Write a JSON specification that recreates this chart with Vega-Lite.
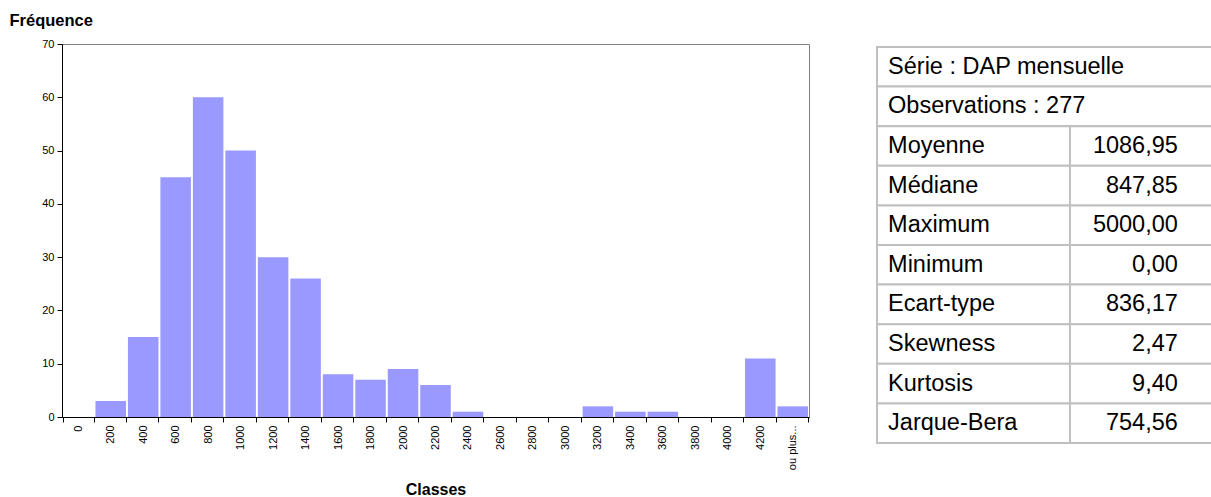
{
  "$schema": "https://vega.github.io/schema/vega-lite/v6.json",
  "padding": {"left": 8, "top": 11, "right": 0, "bottom": 0},
  "background": "white",
  "spacing": 66,
  "config": {"font": "Liberation Sans", "view": {"stroke": null}},
  "hconcat": [
    {
      "width": 747,
      "height": 373,
      "view": {"stroke": "#808080", "strokeWidth": 1},
      "data": {"values": [
        {"classe": "0", "freq": 0},
        {"classe": "200", "freq": 3},
        {"classe": "400", "freq": 15},
        {"classe": "600", "freq": 45},
        {"classe": "800", "freq": 60},
        {"classe": "1000", "freq": 50},
        {"classe": "1200", "freq": 30},
        {"classe": "1400", "freq": 26},
        {"classe": "1600", "freq": 8},
        {"classe": "1800", "freq": 7},
        {"classe": "2000", "freq": 9},
        {"classe": "2200", "freq": 6},
        {"classe": "2400", "freq": 1},
        {"classe": "2600", "freq": 0},
        {"classe": "2800", "freq": 0},
        {"classe": "3000", "freq": 0},
        {"classe": "3200", "freq": 2},
        {"classe": "3400", "freq": 1},
        {"classe": "3600", "freq": 1},
        {"classe": "3800", "freq": 0},
        {"classe": "4000", "freq": 0},
        {"classe": "4200", "freq": 11},
        {"classe": "ou plus...", "freq": 2}
      ]},
      "mark": {"type": "bar", "color": "#9999FF"},
      "encoding": {
        "x": {
          "field": "classe", "type": "ordinal", "sort": null,
          "scale": {"paddingInner": 0.06, "paddingOuter": 0.03},
          "axis": {
            "title": "Classes", "titleFontSize": 16, "titleFontWeight": "bold", "titleColor": "black", "titlePadding": 12,
            "labelAngle": 270, "labelFontSize": 11, "labelColor": "black", "labelPadding": 3,
            "domainColor": "black", "tickColor": "black", "tickSize": 5, "tickBand": "extent", "grid": false
          }
        },
        "y": {
          "field": "freq", "type": "quantitative",
          "scale": {"domain": [0, 70], "nice": false},
          "axis": {
            "title": "Fréquence", "titleAngle": 0, "titleAlign": "left", "titleBaseline": "alphabetic",
            "titleX": -53, "titleY": -19, "titleFontSize": 16.5, "titleFontWeight": "bold", "titleColor": "black",
            "values": [0, 10, 20, 30, 40, 50, 60, 70],
            "labelFontSize": 11, "labelColor": "black", "labelPadding": 3,
            "domainColor": "black", "tickColor": "black", "tickSize": 5, "grid": false
          }
        }
      }
    },
    {
      "width": 335,
      "height": 402,
      "view": {"stroke": null},
      "data": {"values": [
        {"row": 0, "label": "Série : DAP mensuelle", "value": null},
        {"row": 1, "label": "Observations : 277", "value": null},
        {"row": 2, "label": "Moyenne", "value": "1086,95"},
        {"row": 3, "label": "Médiane", "value": "847,85"},
        {"row": 4, "label": "Maximum", "value": "5000,00"},
        {"row": 5, "label": "Minimum", "value": "0,00"},
        {"row": 6, "label": "Ecart-type", "value": "836,17"},
        {"row": 7, "label": "Skewness", "value": "2,47"},
        {"row": 8, "label": "Kurtosis", "value": "9,40"},
        {"row": 9, "label": "Jarque-Bera", "value": "754,56"}
      ]},
      "encoding": {
        "y": {"field": "row", "type": "ordinal", "scale": {"paddingInner": 0, "paddingOuter": 0.0758}, "axis": null}
      },
      "layer": [
        {
          "mark": {"type": "rect", "fill": "white", "stroke": "#c0c0c0", "strokeWidth": 2, "clip": true},
          "encoding": {
            "x": {"datum": 0.003, "type": "quantitative", "scale": {"domain": [0, 1]}, "axis": null},
            "x2": {"datum": 1.1}
          }
        },
        {
          "transform": [{"filter": "datum.value != null"}],
          "mark": {"type": "rect", "fill": "white", "stroke": "#c0c0c0", "strokeWidth": 2, "clip": true},
          "encoding": {
            "x": {"datum": 0.579, "type": "quantitative"},
            "x2": {"datum": 1.1}
          }
        },
        {
          "mark": {"type": "text", "align": "left", "baseline": "middle", "fontSize": 23.5, "color": "black"},
          "encoding": {
            "x": {"datum": 0.036, "type": "quantitative"},
            "text": {"field": "label"}
          }
        },
        {
          "transform": [{"filter": "datum.value != null"}],
          "mark": {"type": "text", "align": "right", "baseline": "middle", "fontSize": 23.5, "color": "black"},
          "encoding": {
            "x": {"datum": 0.901, "type": "quantitative"},
            "text": {"field": "value"}
          }
        }
      ]
    }
  ]
}
